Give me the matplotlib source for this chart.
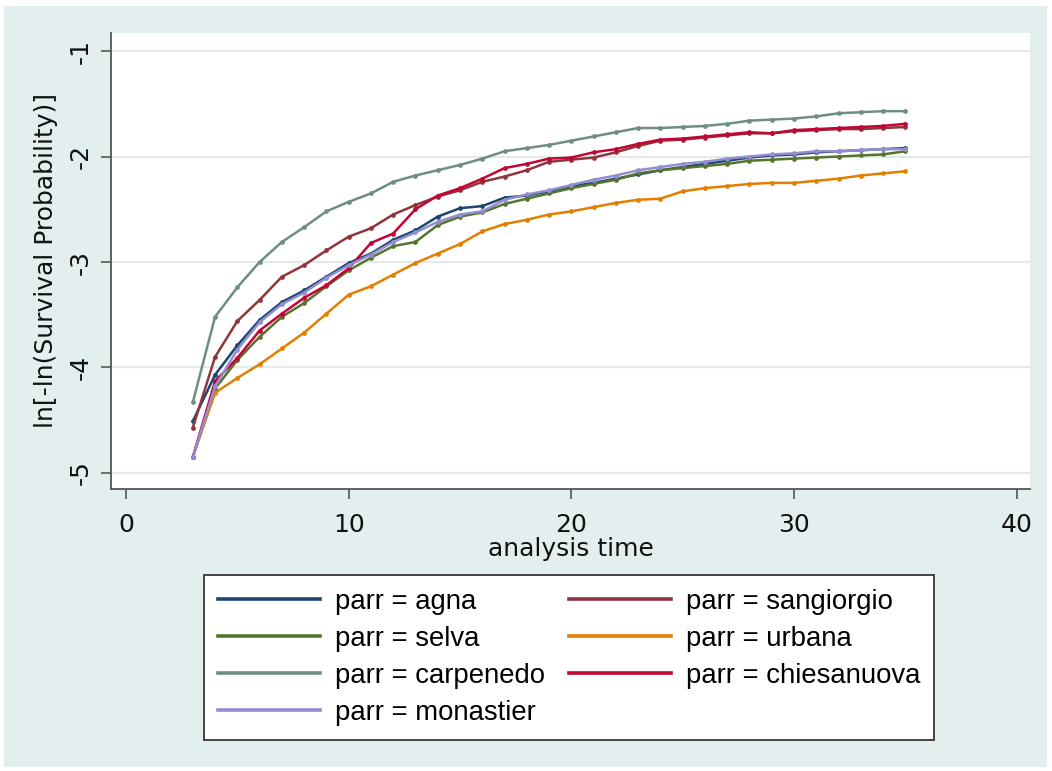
import matplotlib
matplotlib.use("Agg")
import matplotlib.pyplot as plt
from matplotlib.patches import Rectangle

# analysis time (days) and ln[-ln S(t)] for each parish
t = list(range(3, 36))

agna = [-4.51, -4.07, -3.79, -3.55, -3.38, -3.27, -3.14, -3.01, -2.92, -2.79, -2.70,
        -2.57, -2.49, -2.47, -2.39, -2.37, -2.33, -2.28, -2.25, -2.21, -2.17, -2.13,
        -2.10, -2.07, -2.04, -2.01, -1.99, -1.98, -1.96, -1.95, -1.94, -1.93, -1.92]
sangiorgio = [-4.57, -3.90, -3.56, -3.36, -3.14, -3.03, -2.89, -2.76, -2.68, -2.55, -2.46,
              -2.38, -2.32, -2.24, -2.19, -2.13, -2.05, -2.03, -2.01, -1.96, -1.90, -1.85,
              -1.84, -1.82, -1.80, -1.78, -1.78, -1.76, -1.75, -1.74, -1.74, -1.73, -1.72]
selva = [-4.85, -4.20, -3.93, -3.71, -3.52, -3.39, -3.23, -3.08, -2.96, -2.85, -2.81,
         -2.65, -2.57, -2.53, -2.45, -2.40, -2.35, -2.30, -2.26, -2.22, -2.16, -2.13,
         -2.11, -2.09, -2.07, -2.04, -2.03, -2.02, -2.01, -2.00, -1.99, -1.98, -1.95]
urbana = [-4.85, -4.24, -4.10, -3.97, -3.82, -3.67, -3.49, -3.31, -3.23, -3.12, -3.01,
          -2.92, -2.83, -2.71, -2.64, -2.60, -2.55, -2.52, -2.48, -2.44, -2.41, -2.40,
          -2.33, -2.30, -2.28, -2.26, -2.25, -2.25, -2.23, -2.21, -2.18, -2.16, -2.14]
carpenedo = [-4.33, -3.52, -3.24, -3.00, -2.81, -2.67, -2.52, -2.43, -2.35, -2.24, -2.18,
             -2.13, -2.08, -2.02, -1.95, -1.92, -1.89, -1.85, -1.81, -1.77, -1.73, -1.73,
             -1.72, -1.71, -1.69, -1.66, -1.65, -1.64, -1.62, -1.59, -1.58, -1.57, -1.57]
chiesanuova = [-4.85, -4.13, -3.91, -3.65, -3.49, -3.34, -3.22, -3.06, -2.82, -2.73, -2.50,
               -2.37, -2.30, -2.21, -2.11, -2.07, -2.02, -2.01, -1.96, -1.93, -1.88, -1.84,
               -1.83, -1.81, -1.79, -1.77, -1.78, -1.75, -1.74, -1.73, -1.72, -1.71, -1.69]
monastier = [-4.85, -4.18, -3.83, -3.57, -3.40, -3.29, -3.15, -3.03, -2.93, -2.81, -2.72,
             -2.62, -2.55, -2.52, -2.41, -2.36, -2.32, -2.27, -2.22, -2.18, -2.13, -2.10,
             -2.07, -2.05, -2.02, -2.00, -1.98, -1.97, -1.95, -1.95, -1.94, -1.93, -1.93]

names = ["agna", "sangiorgio", "selva", "urbana", "carpenedo", "chiesanuova", "monastier"]
series = [agna, sangiorgio, selva, urbana, carpenedo, chiesanuova, monastier]
# stata s2color palette
colors = ["#1a476f", "#90353b", "#55752f", "#e37e00", "#6e8e84", "#c10534", "#938dd2"]

xticks = [0, 10, 20, 30, 40]
yticks = [-5, -4, -3, -2, -1]

bg = "#e3eeef"
fig = plt.figure(figsize=(10.52, 7.71), dpi=100)
fig.patch.set_facecolor("white")
fig.patches.append(Rectangle((4 / 1052, 4 / 771), 1043 / 1052, 761 / 771,
                             transform=fig.transFigure, facecolor=bg,
                             edgecolor="none", zorder=-10))

ax = fig.add_axes([111 / 1052, 1 - 489 / 771, 919 / 1052, 456 / 771])
ax.set_facecolor("white")

lines = []
for name, ys, c in zip(names, series, colors):
    ln, = ax.plot(t, ys, color=c, lw=1.8, marker="o", ms=2.4, mec=c, mfc=c,
                  label=f"parr = {name}", zorder=3)
    lines.append(ln)

ax.set_xlim(-0.674, 40.6)
ax.set_ylim(-5.152, -0.829)
ax.set_xticks(xticks)
ax.set_yticks(yticks)
ax.set_xticklabels([str(v) for v in xticks], fontsize=18)
ax.set_yticklabels([str(v) for v in yticks], fontsize=18, rotation=90, va="center")

ax.grid(axis="y", color="#e6e9e9", lw=1.6, zorder=0)
ax.set_axisbelow(True)
for s in ["top", "right"]:
    ax.spines[s].set_visible(False)
for s in ["left", "bottom"]:
    ax.spines[s].set_color("#555555")
    ax.spines[s].set_linewidth(1.3)
ax.tick_params(axis="both", direction="out", length=7, width=1.2, color="#555555",
               labelcolor="#111111")
ax.tick_params(axis="x", pad=10)
ax.tick_params(axis="y", pad=6)

ax.set_xlabel("analysis time", fontsize=18, labelpad=0, color="#111111")
ax.set_ylabel("ln[-ln(Survival Probability)]", fontsize=18, labelpad=8, color="#111111")

# legend laid out row-wise: reorder for matplotlib's column-first fill
order = [0, 2, 4, 6, 1, 3, 5]
leg = fig.legend([lines[i] for i in order], [lines[i].get_label() for i in order],
                 ncol=2, loc="upper left", bbox_to_anchor=(204 / 1052, 1 - 575 / 771),
                 frameon=True, fancybox=False, framealpha=1, edgecolor="#444444",
                 prop={"family": "Liberation Sans", "size": 19.8},
                 handlelength=3.7, handletextpad=0.55, columnspacing=0.9,
                 labelspacing=0.4, borderpad=0.5, borderaxespad=0)
leg.get_frame().set_linewidth(1.4)
for h in leg.legend_handles:
    h.set_marker("")
    h.set_linewidth(2.6)

fig.savefig("out.png", dpi=100, facecolor=fig.get_facecolor())
